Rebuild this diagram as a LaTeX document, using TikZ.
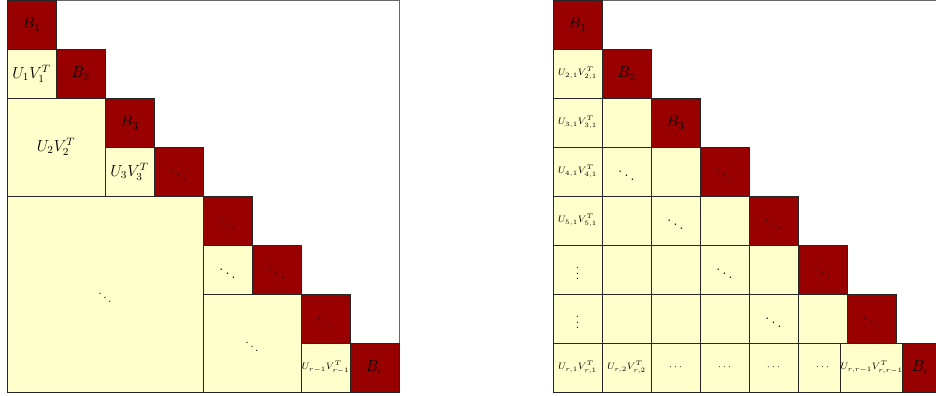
\documentclass[tikz,border=0pt]{standalone}
\definecolor{hodred}{RGB}{153,0,0}
\definecolor{hodpale}{RGB}{255,255,204}
\begin{document}
\begin{tikzpicture}[x=0.75pt,y=0.75pt,every node/.style={draw=black!85,line width=0.6pt,
  inner sep=0pt,outer sep=0pt,minimum size=36.75pt,font=\large},
  dk/.style={fill=hodred}, lt/.style={fill=hodpale}, sm/.style={font=\small},
  two/.style={minimum size=73.5pt}, four/.style={minimum size=147pt},
  frame/.style={draw=black!60,minimum size=294pt}]
\useasboundingbox (0,0) rectangle (936,-396);
% left: HODLR
\node[frame] (lfr) at (203,-196) {};
\node[dk] (lb1) at (31.5,-24.5) {$B_1$}; \node[dk] (lb2) at (80.5,-73.5) {$B_2$};
\node[dk] (lb3) at (129.5,-122.5) {$B_3$}; \node[dk] (ld4) at (178.5,-171.5) {$\ddots$};
\node[dk] (ld5) at (227.5,-220.5) {$\ddots$}; \node[dk] (ld6) at (276.5,-269.5) {$\ddots$};
\node[dk] (ld7) at (325.5,-318.5) {$\ddots$}; \node[dk] (lbr) at (374.5,-367.5) {$B_r$};
\node[lt] (luv1) at (31.5,-73.5) {$U_1V_1^T$};
\node[lt,two] (luv2) at (56,-147) {$U_2V_2^T$};
\node[lt] (luv3) at (129.5,-171.5) {$U_3V_3^T$};
\node[lt,four,sm] (lbig) at (105,-294) {$\ddots$};
\node[lt] (lsm1) at (227.5,-269.5) {$\ddots$};
\node[lt,two,sm] (lsm2) at (252,-343) {$\ddots$};
\node[lt,font=\scriptsize] (luvr) at (325.5,-367.5) {$U_{r-1}V_{r-1}^T$};
% right: block lower triangular
\node[frame] (rfr) at (749,-196) {};
\node[dk] (rb1) at (577.5,-24.5) {$B_1$}; \node[dk] (rb2) at (626.5,-73.5) {$B_2$};
\node[dk] (rb3) at (675.5,-122.5) {$B_3$}; \node[dk] (rd4) at (724.5,-171.5) {$\ddots$};
\node[dk] (rd5) at (773.5,-220.5) {$\ddots$}; \node[dk] (rd6) at (822.5,-269.5) {$\ddots$};
\node[dk] (rd7) at (871.5,-318.5) {$\ddots$}; \node[dk] (rbr) at (920.5,-367.5) {$B_r$};
\node[lt,font=\scriptsize] (r21) at (577.5,-73.5) {$U_{2,1}V_{2,1}^T$};
\node[lt,font=\scriptsize] (r31) at (577.5,-122.5) {$U_{3,1}V_{3,1}^T$};
\node[lt] (r32) at (626.5,-122.5) {};
\node[lt,font=\scriptsize] (r41) at (577.5,-171.5) {$U_{4,1}V_{4,1}^T$};
\node[lt] (r42) at (626.5,-171.5) {$\ddots$}; \node[lt] (r43) at (675.5,-171.5) {};
\node[lt,font=\scriptsize] (r51) at (577.5,-220.5) {$U_{5,1}V_{5,1}^T$};
\node[lt] (r52) at (626.5,-220.5) {}; \node[lt] (r53) at (675.5,-220.5) {$\ddots$};
\node[lt] (r54) at (724.5,-220.5) {};
\node[lt,sm] (r61) at (577.5,-269.5) {$\vdots$}; \node[lt] (r62) at (626.5,-269.5) {};
\node[lt] (r63) at (675.5,-269.5) {}; \node[lt] (r64) at (724.5,-269.5) {$\ddots$};
\node[lt] (r65) at (773.5,-269.5) {};
\node[lt,sm] (r71) at (577.5,-318.5) {$\vdots$}; \node[lt] (r72) at (626.5,-318.5) {};
\node[lt] (r73) at (675.5,-318.5) {}; \node[lt] (r74) at (724.5,-318.5) {};
\node[lt] (r75) at (773.5,-318.5) {$\ddots$}; \node[lt] (r76) at (822.5,-318.5) {};
\node[lt,font=\scriptsize] (r81) at (577.5,-367.5) {$U_{r,1}V_{r,1}^T$};
\node[lt,font=\scriptsize] (r82) at (626.5,-367.5) {$U_{r,2}V_{r,2}^T$};
\node[lt,font=\scriptsize] (r83) at (675.5,-367.5) {$\cdots$};
\node[lt,font=\scriptsize] (r84) at (724.5,-367.5) {$\cdots$};
\node[lt,font=\scriptsize] (r85) at (773.5,-367.5) {$\cdots$};
\node[lt,font=\scriptsize] (r86) at (822.5,-367.5) {$\cdots$};
\node[lt,font=\scriptsize] (r87) at (871.5,-367.5) {$U_{r,r-1}V_{r,r-1}^T$};
\end{tikzpicture}
\end{document}
